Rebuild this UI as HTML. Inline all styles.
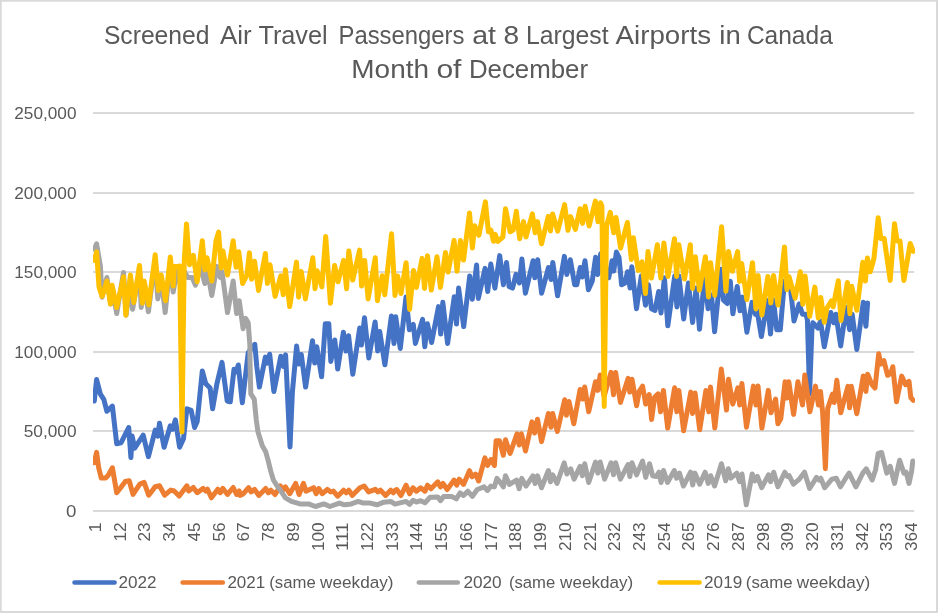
<!DOCTYPE html>
<html><head><meta charset="utf-8"><title>Screened Air Travel Passengers</title>
<style>html,body{margin:0;padding:0;background:#fff;}body{width:938px;height:613px;overflow:hidden;font-family:"Liberation Sans",Arial,sans-serif;}</style></head>
<body>
<svg width="938" height="613" viewBox="0 0 938 613" style="display:block">
<rect x="0" y="0" width="938" height="613" fill="#d9d9d9"/>
<rect x="1.7" y="1.7" width="934.3" height="609.3" fill="#ffffff"/>
<line x1="93" y1="113.00" x2="914.2" y2="113.00" stroke="#d9d9d9" stroke-width="2"/>
<line x1="93" y1="193.00" x2="914.2" y2="193.00" stroke="#d9d9d9" stroke-width="2"/>
<line x1="93" y1="272.00" x2="914.2" y2="272.00" stroke="#d9d9d9" stroke-width="2"/>
<line x1="93" y1="352.00" x2="914.2" y2="352.00" stroke="#d9d9d9" stroke-width="2"/>
<line x1="93" y1="431.00" x2="914.2" y2="431.00" stroke="#d9d9d9" stroke-width="2"/>
<line x1="93" y1="511.00" x2="914.2" y2="511.00" stroke="#d9d9d9" stroke-width="2"/>
<defs><clipPath id="plotclip"><rect x="93" y="100" width="822" height="420"/></clipPath></defs>
<g clip-path="url(#plotclip)">
<polyline fill="none" stroke="#4472c4" stroke-width="5" stroke-linejoin="round" stroke-linecap="round" points="94.3,401.0 96.6,379.6 100.4,394.1 103.8,399.3 106.9,411.3 112.4,406.1 116.7,443.8 121.0,442.9 128.7,427.5 130.9,457.5 132.1,436.1 134.7,448.1 143.2,435.2 148.4,456.6 155.2,430.1 157.8,436.1 159.5,423.2 164.1,447.2 170.3,425.8 172.7,429.2 175.4,419.8 179.6,447.2 183.5,438.7 186.9,408.7 191.2,410.4 194.6,427.5 197.2,421.5 202.3,371.0 205.8,383.8 210.1,388.1 212.6,408.7 216.9,383.8 222.0,362.4 227.2,401.0 230.3,401.8 234.0,369.3 236.1,371.9 238.3,365.0 242.3,402.7 248.2,352.8 254.8,344.3 256.8,366.5 259.4,387.1 265.4,357.1 267.1,363.1 269.7,354.2 273.9,391.4 280.8,356.3 283.4,366.5 285.6,354.9 290.0,447 292.4,392 296.6,346.0 298.8,364.0 301.3,354.5 305.6,387.1 312.5,340.8 314.7,363.1 316.8,346.8 321.6,376.8 325.3,323.7 328.8,323.7 330.8,361.4 334.8,340.0 337.7,369.1 343.4,332.2 346.0,351.1 348.6,335.7 352.8,374.2 359.7,328.0 361.4,345.1 364.5,317.7 368.8,357.9 375.1,322.0 377.7,351.1 379.7,331.4 384.9,364.8 391.4,316.0 394.0,343.4 395.7,316.8 400.3,348.5 406.0,297.1 409.4,329.7 413.3,324.5 415.4,343.4 422.6,319.4 424.8,346.8 427.4,323.7 431.6,342.5 438.5,306.6 440.7,334.0 442.8,302.3 447.6,343.4 454.3,296.7 456.5,324.1 458.6,288.1 463.7,326.6 469.7,276.1 472.3,299.2 476.6,265.0 478.3,298.4 485.1,268.4 487.7,291.5 490.8,264.1 494.9,288.1 499.7,255.6 503.4,284.7 506.5,262.4 509.1,286.4 512.5,288.1 516.0,274.4 519.4,283.0 521.9,259.0 525.4,293.2 533.1,260.7 534.8,277.8 537.7,259.8 541.6,293.2 548.5,267.5 551.1,279.5 552.8,262.4 557.6,295.8 564.4,256.4 566.8,274.4 570.3,259.8 574.7,284.7 576.8,284.7 580.2,267.5 582.2,277.0 585.0,260.7 588.4,289.8 592.2,281.3 595.6,257.3 597.7,274.4 600.7,253.8 603.6,260.7 608.7,277.8 612.1,260.7 613.8,271.0 616.4,252.1 619.0,257.3 621.6,284.7 625.0,283.0 627.5,271.8 630.1,288.1 631.8,266.7 636.5,308.7 641.3,276.1 645.5,305.2 648.4,284.7 651.5,308.7 655.0,310.4 658.7,291.5 661.0,312.9 664.4,277.8 667.8,325.8 674.7,276.1 676.9,306.9 678.9,276.1 683.7,318.9 688.4,283.0 692.6,322.4 696.1,288.1 699.5,329.2 704.6,277.8 708.1,308.7 711.5,295.0 714.6,331.8 720.9,269.3 723.5,300.1 727.2,303.5 730.3,281.3 732.9,313.8 737.2,286.4 740.0,310.8 742.6,297.1 746.9,332.2 752.0,302.3 755.4,314.3 757.1,310.8 761.4,336.5 767.4,300.6 770.5,334.0 773.4,299.7 776.8,329.7 780.3,329.7 784.5,280.9 786.6,286.9 789.7,280.9 794.0,321.1 799.1,304.0 802.5,314.3 806.0,314.3 807.4,320 809.6,394 811.9,330 812.8,322.8 817.9,328.0 820.5,321.1 824.3,346.8 830.8,312.5 833.9,322.8 835.9,314.3 840.7,346.0 846.2,307.4 849.6,329.7 852.2,314.3 856.8,349.4 863.3,302.3 865.9,326.3 867.6,303.1"/>
<polyline fill="none" stroke="#ed7d31" stroke-width="5" stroke-linejoin="round" stroke-linecap="round" points="94.3,462.7 96.6,452.4 98.7,467.8 101.3,478.1 105.6,478.1 108.1,475.5 112.4,467.8 116.7,492.7 120.1,488.4 125.3,481.5 129.2,480.7 133.0,494.4 139.8,484.1 144.1,482.4 148.7,495.2 155.2,486.7 159.5,485.8 164.7,495.2 170.7,490.1 174.1,491.0 179.2,496.1 186.9,485.8 188.6,491.0 193.3,487.5 197.2,492.7 203.2,488.4 205.8,491.0 207.5,489.2 211.4,497.8 217.8,489.2 220.3,492.7 222.9,488.4 227.5,494.4 233.2,487.5 236.6,494.4 239.2,491.0 240.0,495.4 243.4,493.7 248.6,487.7 251.1,491.9 254.6,489.4 258.8,495.4 265.7,488.5 268.3,492.8 270.8,490.2 275.1,494.5 280.3,486.0 282.8,490.2 285.4,486.8 289.7,493.7 295.7,483.4 299.1,494.5 303.4,483.4 306.0,491.1 313.7,487.7 316.2,493.7 318.8,488.5 322.2,493.7 327.4,489.4 330.8,491.9 333.4,491.1 337.6,496.2 343.6,490.2 346.2,492.8 348.8,490.2 352.2,495.4 359.9,487.7 364.2,486.0 368.5,491.9 375.3,489.4 377.9,491.9 380.5,490.2 385.6,495.4 390.7,490.2 393.3,492.8 395.0,490.4 396.7,489.5 401.0,495.5 406.1,485.2 409.6,493.8 413.0,487.8 416.4,491.2 420.7,487.8 425.0,491.2 427.5,485.2 431.0,488.7 437.8,481.8 440.4,486.9 443.0,483.5 447.2,489.5 454.1,480.1 456.7,485.2 459.2,479.2 463.5,484.4 469.5,470.7 472.1,476.7 475.5,474.1 478.6,481.0 484.9,457.8 487.5,465.5 490.9,459.5 494.4,465.5 496.1,440.7 499.5,440.7 503.3,455.3 505.5,439.8 510.1,453.5 517.0,433.8 519.2,445.0 521.4,433.8 525.5,451.0 532.0,421.9 534.6,433.0 537.5,419.3 541.5,441.6 548.4,413.5 551.0,427.2 552.7,413.5 557.3,431.5 564.7,399.8 566.4,415.2 569.0,401.5 573.8,423.8 580.1,389.5 582.7,399.0 584.7,387.0 588.7,411.8 595.5,381.8 597.8,390.4 600.2,375.0 604.1,396.4 611.0,372.4 613.5,394.7 615.6,372.4 620.4,402.4 628.1,378.4 629.8,392.1 632.0,379.3 636.6,405.8 639.2,391.3 642.6,386.1 645.7,404.1 649.2,394.7 651.6,419.5 654.6,397.2 658.1,393.8 660.6,411.8 663.4,390.4 667.7,428.1 674.6,387.8 676.8,411.8 678.8,390.4 683.6,430.7 690.8,392.1 692.5,413.5 695.1,393.0 699.7,429.8 705.9,390.4 708.8,411.8 710.5,387.0 714.8,428.1 721.3,369.0 726.5,410.1 728.5,379.3 732.8,404.1 737.9,387.8 739.7,405.0 741.9,383.5 746.5,427.2 753.4,386.1 755.9,405.0 758.0,386.1 761.9,428.1 768.3,390.4 771.0,412.7 775.6,399.0 777.9,423.8 780.8,418.7 785.1,381.8 787.1,398.1 788.8,381.8 793.6,414.4 797.9,381.8 802.5,405.0 804.8,375.0 809.9,411.8 815.5,386.1 818.5,405.1 820.5,391.4 822.6,411.9 825.4,468.7 827.7,408.5 832.5,394.0 834.2,402.5 836.8,380.3 840.7,412.8 847.9,386.3 849.6,407.7 851.3,386.3 856.8,413.7 863.3,376.0 865.9,391.4 867.6,374.3 871.9,384.5 875.0,388.0 878.7,353.8 880.8,364.1 883.9,360.7 887.6,375.3 890.7,373.5 892.8,366.7 896.5,401.8 901.7,376.1 905.6,384.7 909.0,381.3 910.8,397.5 913.3,400.4"/>
<polyline fill="none" stroke="#a5a5a5" stroke-width="5" stroke-linejoin="round" stroke-linecap="round" points="94.3,249.3 96.6,243.8 100.4,266.4 102.1,297.2 106.9,277.5 110.7,304.1 112.4,287.8 116.7,313.5 123.5,272.4 126.1,315.2 130.4,279.2 132.6,309.2 139.5,269.8 141.2,307.5 144.1,283.5 148.4,311.8 155.2,259.5 157.8,298.9 161.2,278.4 165.2,312.6 170.3,262.1 173.2,292.1 176.6,271.5 180.1,283.5 184.4,271.5 187.8,277.5 192.1,277.5 195.5,285.2 200.1,266.4 204.9,283.5 207.5,271.5 211.8,295.5 216.9,266.4 220.3,277.5 222.0,271.5 227.5,312.6 233.2,281.0 236.6,313.5 239.2,300.7 243.1,328.7 245.7,318.4 248.2,322.7 249.9,345.8 250.0,361.4 250.8,393.9 254.2,399.1 256.3,420.0 258.0,432.0 262.3,445.7 265.7,451.7 268.3,461.1 270.8,471.4 273.4,480.0 276.0,484.2 280.3,490.2 285.4,497.9 291.4,501.4 300.0,503.9 308.5,503.9 315.4,506.5 323.9,503.9 329.9,506.5 339.4,503.1 344.5,504.8 351.3,503.9 358.2,501.4 363.3,503.1 370.2,503.1 377.0,504.8 383.9,502.2 390.7,501.4 395.0,504.1 401.9,502.4 406.1,501.5 409.6,504.4 413.0,500.3 416.4,502.0 420.7,500.7 425.0,502.7 430.1,497.2 437.8,496.9 440.4,500.7 443.8,496.4 451.5,496.4 456.3,498.9 460.1,492.9 463.5,495.5 467.8,491.2 472.4,496.4 477.2,489.5 484.1,486.9 487.5,490.4 490.9,486.1 494.4,486.9 496.9,478.4 500.4,482.7 503.3,486.9 505.5,475.8 509.4,484.4 516.6,480.1 519.2,488.7 521.8,478.4 526.0,486.1 532.9,475.8 535.1,483.5 537.5,475.8 541.5,487.8 548.4,470.5 550.5,481.7 552.7,474.8 557.0,483.4 564.2,462.8 566.9,474.0 570.7,468.8 574.1,479.1 580.1,466.3 582.3,475.7 584.7,463.7 588.7,482.5 595.5,462.0 597.8,473.1 600.2,462.0 604.6,479.1 611.0,462.8 613.5,474.8 615.6,462.8 620.4,479.1 628.1,464.5 629.8,476.5 632.0,462.8 636.6,474.8 642.6,461.1 645.7,477.4 649.5,463.7 652.6,475.7 656.3,476.5 658.9,472.2 661.1,482.5 663.5,470.5 667.5,482.5 674.3,470.5 676.6,478.2 679.5,473.1 683.4,486.0 690.6,472.2 692.7,485.1 694.9,473.1 699.7,484.2 705.1,472.2 708.2,483.4 710.6,475.7 714.6,486.0 721.4,463.7 725.7,480.8 728.3,468.8 730.8,478.2 736.8,473.1 739.7,481.7 742.0,474.0 746.3,504.8 752.2,474.0 754.8,480.8 757.4,476.5 761.7,487.7 768.5,474.8 770.6,481.7 773.7,472.2 777.9,486.8 784.8,472.2 787.4,476.5 789.1,475.7 793.4,484.2 799.4,479.1 804.5,472.2 809.6,488.5 816.5,477.4 819.1,480.0 820.8,478.2 824.7,487.7 831.9,479.1 836.2,478.2 840.5,486.8 845.7,478.2 849.1,473.1 855.9,486.8 862.8,473.1 866.2,468.8 872.2,480.0 875.6,469.7 878.2,453.4 881.6,452.5 886.8,473.1 890.2,466.3 894.5,483.4 899.6,460.3 903.9,473.1 906.1,472.2 909.0,483.4 911.6,471.4 912.8,461.1"/>
<polyline fill="none" stroke="#ffc000" stroke-width="5" stroke-linejoin="round" stroke-linecap="round" points="94.3,260.4 96.6,251.8 99.0,286.9 102.1,296.4 106.9,281.0 110.4,304.1 112.1,285.2 116.7,307.5 123.5,276.7 125.8,315.2 130.4,275.0 133.8,302.4 139.5,265.5 142.4,303.2 144.1,281.0 148.7,304.9 155.2,254.7 158.3,290.4 161.2,275.0 165.5,300.7 170.3,257.0 173.2,286.1 174.4,266.4 177.5,266.4 179.7,266 182.0,432 184.2,262 186.5,224 189.5,264.7 193.3,255.3 197.2,281.8 202.3,240.7 204.9,269.8 207.0,257.8 211.8,281.0 216.0,240.7 218.6,232.1 221.2,268.1 222.9,251.0 227.5,275.0 233.2,240.7 236.1,267.2 238.8,251.8 242.6,283.5 246.9,275.0 249.4,252.7 251.6,279.2 254.6,261.3 258.5,290.4 265.4,253.5 267.4,283.5 270.0,264.7 275.1,296.4 280.8,275.8 283.2,294.7 285.4,269.8 289.7,306.6 296.5,262.1 298.6,297.2 301.3,271.5 305.4,298.9 312.8,257.8 315.0,288.7 317.1,270.7 321.9,286.9 325.7,236.4 330.4,303.2 334.6,265.5 338.0,281.8 343.6,260.4 346.6,288.7 348.8,251.0 352.7,280.1 359.6,250.1 361.6,286.1 364.7,260.4 368.1,298.9 375.3,257.8 377.4,300.7 382.2,275.8 384.8,294.7 391.6,233.8 395.0,295.5 397.6,275.9 401.0,293.5 406.1,262.7 409.6,309.4 413.5,270.4 416.4,287.5 422.1,258.4 424.5,288.4 427.5,255.8 431.3,290.1 437.0,256.7 440.4,287.5 445.5,252.4 448.1,272.1 454.1,240.4 457.0,271.2 460.4,240.4 463.5,260.1 469.5,213.0 472.4,248.1 474.7,225.8 478.9,235.3 485.4,201.9 488.4,231.8 490.9,230.1 493.5,241.3 495.2,234.4 497.8,241.3 502.9,237.0 505.5,208.7 510.1,231.8 513.2,230.1 516.3,211.3 519.7,238.7 523.5,221.6 526.0,237.0 532.4,213.8 535.1,232.7 537.5,221.6 541.5,243.8 548.3,216.4 550.5,231.0 552.6,214.0 557.7,231.1 564.6,204.6 568.0,230.3 570.6,216.6 575.4,229.4 580.0,208.8 582.5,223.4 585.1,206.3 589.1,226.0 595.4,201.1 598.0,221.7 600.5,202.8 601.9,206 604.2,406.5 606.5,226 610.3,212.3 613.7,232.8 616.0,217.4 620.6,248.2 627.4,222.5 631.4,259.4 633.4,237.8 638.2,270.4 642.0,261.8 645.4,293.5 648.0,251.6 651.4,278.1 657.4,244.7 660.8,278.1 663.9,243.0 668.0,276.4 674.5,238.7 676.6,276.4 678.8,244.7 684.5,279.0 690.3,244.7 692.5,288.4 695.4,256.7 699.4,290.1 705.4,256.7 708.5,296.9 710.5,262.7 714.8,295.2 721.6,226.7 725.9,291.0 728.5,251.6 732.4,271.3 737.6,251.6 739.6,281.5 741.7,263.5 746.8,299.5 752.5,262.7 755.9,308.9 758.1,275.5 761.9,314.9 767.9,276.4 770.8,302.9 773.6,275.5 778.0,305.1 784.5,246.9 786.9,289.7 789.1,276.8 795.1,298.2 800.3,271.7 802.8,304.2 805.1,276.0 809.7,316.2 814.8,287.1 818.3,317.9 820.8,297.4 824.3,322.2 826.8,308.5 831.4,300.8 833.2,306.8 838.3,280.8 841.0,320.5 847.4,282.5 849.9,313.7 851.7,286.3 856.8,310.2 862.8,262.3 865.4,281.1 867.4,258.0 870.2,271.7 873.9,258.8 878.2,217.8 880.8,238.4 884.2,238.4 890.2,280.4 894.5,223.8 897.1,241.0 900.0,241.0 903.9,280.4 910.2,243.5 913.3,251.3"/>
</g>
<text y="43.6" font-size="25.2" font-family="Liberation Sans, Arial, sans-serif" fill="#595959"><tspan x="103.90" textLength="105.60" lengthAdjust="spacingAndGlyphs">Screened</tspan> <tspan x="220.00" textLength="31.70" lengthAdjust="spacingAndGlyphs">Air</tspan> <tspan x="258.40" textLength="69.30" lengthAdjust="spacingAndGlyphs">Travel</tspan> <tspan x="338.50" textLength="126.00" lengthAdjust="spacingAndGlyphs">Passengers</tspan> <tspan x="472.20" textLength="23.80" lengthAdjust="spacingAndGlyphs">at</tspan> <tspan x="503.40" textLength="15.60" lengthAdjust="spacingAndGlyphs">8</tspan> <tspan x="526.00" textLength="82.60" lengthAdjust="spacingAndGlyphs">Largest</tspan> <tspan x="615.60" textLength="95.40" lengthAdjust="spacingAndGlyphs">Airports</tspan> <tspan x="719.30" textLength="21.40" lengthAdjust="spacingAndGlyphs">in</tspan> <tspan x="746.90" textLength="85.90" lengthAdjust="spacingAndGlyphs">Canada</tspan></text>
<text y="78.4" font-size="25.2" font-family="Liberation Sans, Arial, sans-serif" fill="#595959"><tspan x="351.30" textLength="77.70" lengthAdjust="spacingAndGlyphs">Month</tspan> <tspan x="436.40" textLength="25.10" lengthAdjust="spacingAndGlyphs">of</tspan> <tspan x="468.90" textLength="119.20" lengthAdjust="spacingAndGlyphs">December</tspan></text>
<text x="76.5" y="118.7" text-anchor="end" font-size="16.7" textLength="62.2" lengthAdjust="spacingAndGlyphs" font-family="Liberation Sans, Arial, sans-serif" fill="#595959">250,000</text>
<text x="76.5" y="198.7" text-anchor="end" font-size="16.7" textLength="62.2" lengthAdjust="spacingAndGlyphs" font-family="Liberation Sans, Arial, sans-serif" fill="#595959">200,000</text>
<text x="76.5" y="277.7" text-anchor="end" font-size="16.7" textLength="62.2" lengthAdjust="spacingAndGlyphs" font-family="Liberation Sans, Arial, sans-serif" fill="#595959">150,000</text>
<text x="76.5" y="357.7" text-anchor="end" font-size="16.7" textLength="62.2" lengthAdjust="spacingAndGlyphs" font-family="Liberation Sans, Arial, sans-serif" fill="#595959">100,000</text>
<text x="76.5" y="436.7" text-anchor="end" font-size="16.7" textLength="52.8" lengthAdjust="spacingAndGlyphs" font-family="Liberation Sans, Arial, sans-serif" fill="#595959">50,000</text>
<text x="76.5" y="516.7" text-anchor="end" font-size="16.7" textLength="10.4" lengthAdjust="spacingAndGlyphs" font-family="Liberation Sans, Arial, sans-serif" fill="#595959">0</text>
<text transform="translate(101.0,522.4) rotate(-90)" text-anchor="end" font-size="16.3" textLength="9.8" lengthAdjust="spacingAndGlyphs" font-family="Liberation Sans, Arial, sans-serif" fill="#595959">1</text>
<text transform="translate(125.7,522.4) rotate(-90)" text-anchor="end" font-size="16.3" textLength="19.2" lengthAdjust="spacingAndGlyphs" font-family="Liberation Sans, Arial, sans-serif" fill="#595959">12</text>
<text transform="translate(150.4,522.4) rotate(-90)" text-anchor="end" font-size="16.3" textLength="19.2" lengthAdjust="spacingAndGlyphs" font-family="Liberation Sans, Arial, sans-serif" fill="#595959">23</text>
<text transform="translate(175.2,522.4) rotate(-90)" text-anchor="end" font-size="16.3" textLength="19.2" lengthAdjust="spacingAndGlyphs" font-family="Liberation Sans, Arial, sans-serif" fill="#595959">34</text>
<text transform="translate(199.9,522.4) rotate(-90)" text-anchor="end" font-size="16.3" textLength="19.2" lengthAdjust="spacingAndGlyphs" font-family="Liberation Sans, Arial, sans-serif" fill="#595959">45</text>
<text transform="translate(224.6,522.4) rotate(-90)" text-anchor="end" font-size="16.3" textLength="19.2" lengthAdjust="spacingAndGlyphs" font-family="Liberation Sans, Arial, sans-serif" fill="#595959">56</text>
<text transform="translate(249.3,522.4) rotate(-90)" text-anchor="end" font-size="16.3" textLength="19.2" lengthAdjust="spacingAndGlyphs" font-family="Liberation Sans, Arial, sans-serif" fill="#595959">67</text>
<text transform="translate(274.1,522.4) rotate(-90)" text-anchor="end" font-size="16.3" textLength="19.2" lengthAdjust="spacingAndGlyphs" font-family="Liberation Sans, Arial, sans-serif" fill="#595959">78</text>
<text transform="translate(298.8,522.4) rotate(-90)" text-anchor="end" font-size="16.3" textLength="19.2" lengthAdjust="spacingAndGlyphs" font-family="Liberation Sans, Arial, sans-serif" fill="#595959">89</text>
<text transform="translate(323.5,522.4) rotate(-90)" text-anchor="end" font-size="16.3" textLength="28.7" lengthAdjust="spacingAndGlyphs" font-family="Liberation Sans, Arial, sans-serif" fill="#595959">100</text>
<text transform="translate(348.2,522.4) rotate(-90)" text-anchor="end" font-size="16.3" textLength="28.7" lengthAdjust="spacingAndGlyphs" font-family="Liberation Sans, Arial, sans-serif" fill="#595959">111</text>
<text transform="translate(373.0,522.4) rotate(-90)" text-anchor="end" font-size="16.3" textLength="28.7" lengthAdjust="spacingAndGlyphs" font-family="Liberation Sans, Arial, sans-serif" fill="#595959">122</text>
<text transform="translate(397.7,522.4) rotate(-90)" text-anchor="end" font-size="16.3" textLength="28.7" lengthAdjust="spacingAndGlyphs" font-family="Liberation Sans, Arial, sans-serif" fill="#595959">133</text>
<text transform="translate(422.4,522.4) rotate(-90)" text-anchor="end" font-size="16.3" textLength="28.7" lengthAdjust="spacingAndGlyphs" font-family="Liberation Sans, Arial, sans-serif" fill="#595959">144</text>
<text transform="translate(447.1,522.4) rotate(-90)" text-anchor="end" font-size="16.3" textLength="28.7" lengthAdjust="spacingAndGlyphs" font-family="Liberation Sans, Arial, sans-serif" fill="#595959">155</text>
<text transform="translate(471.9,522.4) rotate(-90)" text-anchor="end" font-size="16.3" textLength="28.7" lengthAdjust="spacingAndGlyphs" font-family="Liberation Sans, Arial, sans-serif" fill="#595959">166</text>
<text transform="translate(496.6,522.4) rotate(-90)" text-anchor="end" font-size="16.3" textLength="28.7" lengthAdjust="spacingAndGlyphs" font-family="Liberation Sans, Arial, sans-serif" fill="#595959">177</text>
<text transform="translate(521.3,522.4) rotate(-90)" text-anchor="end" font-size="16.3" textLength="28.7" lengthAdjust="spacingAndGlyphs" font-family="Liberation Sans, Arial, sans-serif" fill="#595959">188</text>
<text transform="translate(546.0,522.4) rotate(-90)" text-anchor="end" font-size="16.3" textLength="28.7" lengthAdjust="spacingAndGlyphs" font-family="Liberation Sans, Arial, sans-serif" fill="#595959">199</text>
<text transform="translate(570.8,522.4) rotate(-90)" text-anchor="end" font-size="16.3" textLength="28.7" lengthAdjust="spacingAndGlyphs" font-family="Liberation Sans, Arial, sans-serif" fill="#595959">210</text>
<text transform="translate(595.5,522.4) rotate(-90)" text-anchor="end" font-size="16.3" textLength="28.7" lengthAdjust="spacingAndGlyphs" font-family="Liberation Sans, Arial, sans-serif" fill="#595959">221</text>
<text transform="translate(620.2,522.4) rotate(-90)" text-anchor="end" font-size="16.3" textLength="28.7" lengthAdjust="spacingAndGlyphs" font-family="Liberation Sans, Arial, sans-serif" fill="#595959">232</text>
<text transform="translate(644.9,522.4) rotate(-90)" text-anchor="end" font-size="16.3" textLength="28.7" lengthAdjust="spacingAndGlyphs" font-family="Liberation Sans, Arial, sans-serif" fill="#595959">243</text>
<text transform="translate(669.7,522.4) rotate(-90)" text-anchor="end" font-size="16.3" textLength="28.7" lengthAdjust="spacingAndGlyphs" font-family="Liberation Sans, Arial, sans-serif" fill="#595959">254</text>
<text transform="translate(694.4,522.4) rotate(-90)" text-anchor="end" font-size="16.3" textLength="28.7" lengthAdjust="spacingAndGlyphs" font-family="Liberation Sans, Arial, sans-serif" fill="#595959">265</text>
<text transform="translate(719.1,522.4) rotate(-90)" text-anchor="end" font-size="16.3" textLength="28.7" lengthAdjust="spacingAndGlyphs" font-family="Liberation Sans, Arial, sans-serif" fill="#595959">276</text>
<text transform="translate(743.8,522.4) rotate(-90)" text-anchor="end" font-size="16.3" textLength="28.7" lengthAdjust="spacingAndGlyphs" font-family="Liberation Sans, Arial, sans-serif" fill="#595959">287</text>
<text transform="translate(768.6,522.4) rotate(-90)" text-anchor="end" font-size="16.3" textLength="28.7" lengthAdjust="spacingAndGlyphs" font-family="Liberation Sans, Arial, sans-serif" fill="#595959">298</text>
<text transform="translate(793.3,522.4) rotate(-90)" text-anchor="end" font-size="16.3" textLength="28.7" lengthAdjust="spacingAndGlyphs" font-family="Liberation Sans, Arial, sans-serif" fill="#595959">309</text>
<text transform="translate(818.0,522.4) rotate(-90)" text-anchor="end" font-size="16.3" textLength="28.7" lengthAdjust="spacingAndGlyphs" font-family="Liberation Sans, Arial, sans-serif" fill="#595959">320</text>
<text transform="translate(842.7,522.4) rotate(-90)" text-anchor="end" font-size="16.3" textLength="28.7" lengthAdjust="spacingAndGlyphs" font-family="Liberation Sans, Arial, sans-serif" fill="#595959">331</text>
<text transform="translate(867.5,522.4) rotate(-90)" text-anchor="end" font-size="16.3" textLength="28.7" lengthAdjust="spacingAndGlyphs" font-family="Liberation Sans, Arial, sans-serif" fill="#595959">342</text>
<text transform="translate(892.2,522.4) rotate(-90)" text-anchor="end" font-size="16.3" textLength="28.7" lengthAdjust="spacingAndGlyphs" font-family="Liberation Sans, Arial, sans-serif" fill="#595959">353</text>
<text transform="translate(916.9,522.4) rotate(-90)" text-anchor="end" font-size="16.3" textLength="28.7" lengthAdjust="spacingAndGlyphs" font-family="Liberation Sans, Arial, sans-serif" fill="#595959">364</text>
<line x1="74.5" y1="582.4" x2="114.6" y2="582.4" stroke="#4472c4" stroke-width="4.5" stroke-linecap="round"/>
<line x1="182.6" y1="582.4" x2="222.8" y2="582.4" stroke="#ed7d31" stroke-width="4.5" stroke-linecap="round"/>
<line x1="418.8" y1="582.4" x2="457.8" y2="582.4" stroke="#a5a5a5" stroke-width="4.5" stroke-linecap="round"/>
<line x1="659.6" y1="582.4" x2="699.5999999999999" y2="582.4" stroke="#ffc000" stroke-width="4.5" stroke-linecap="round"/>
<text y="588.4" font-size="16.9" font-family="Liberation Sans, Arial, sans-serif" fill="#595959"><tspan x="118.40" textLength="38.10" lengthAdjust="spacingAndGlyphs">2022</tspan></text>
<text y="588.4" font-size="16.9" font-family="Liberation Sans, Arial, sans-serif" fill="#595959"><tspan x="227.40" textLength="37.80" lengthAdjust="spacingAndGlyphs">2021</tspan> <tspan x="269.30" textLength="46.50" lengthAdjust="spacingAndGlyphs">(same</tspan> <tspan x="320.00" textLength="73.60" lengthAdjust="spacingAndGlyphs">weekday)</tspan></text>
<text y="588.4" font-size="16.9" font-family="Liberation Sans, Arial, sans-serif" fill="#595959"><tspan x="463.40" textLength="38.30" lengthAdjust="spacingAndGlyphs">2020</tspan> <tspan x="508.90" textLength="46.30" lengthAdjust="spacingAndGlyphs">(same</tspan> <tspan x="560.10" textLength="73.10" lengthAdjust="spacingAndGlyphs">weekday)</tspan></text>
<text y="588.4" font-size="16.9" font-family="Liberation Sans, Arial, sans-serif" fill="#595959"><tspan x="704.10" textLength="38.10" lengthAdjust="spacingAndGlyphs">2019</tspan> <tspan x="745.80" textLength="46.80" lengthAdjust="spacingAndGlyphs">(same</tspan> <tspan x="796.80" textLength="73.40" lengthAdjust="spacingAndGlyphs">weekday)</tspan></text>
</svg>
</body></html>
